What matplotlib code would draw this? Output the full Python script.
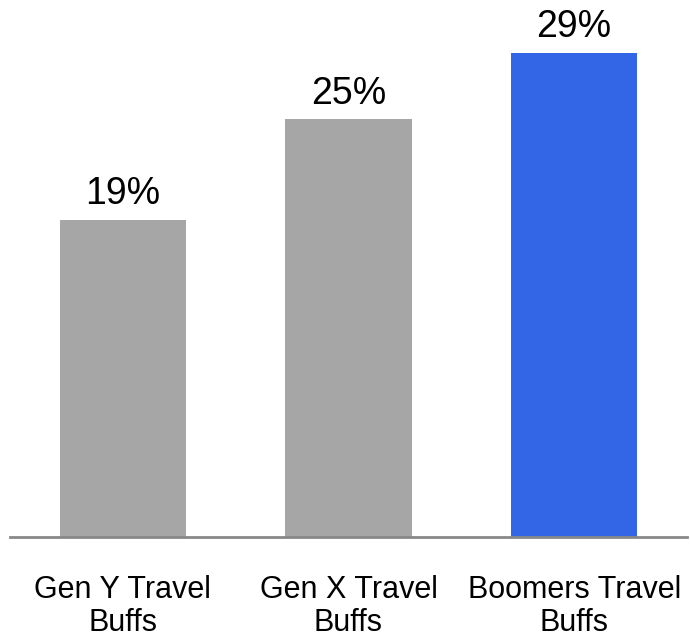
import matplotlib.pyplot as plt

categories = ["Gen Y Travel\nBuffs", "Gen X Travel\nBuffs", "Boomers Travel\nBuffs"]
values = [19, 25, 29]
labels = ["19%", "25%", "29%"]
colors = ["#A6A6A6", "#A6A6A6", "#3366E6"]

plt.rcParams['font.family'] = ['Liberation Sans', 'DejaVu Sans']

fig = plt.figure(figsize=(6.9, 6.37), dpi=100)
ax = fig.add_axes([10 / 690, 1 - 537 / 637, 677 / 690, 537 / 637])

xs = range(len(values))
ax.bar(xs, values, width=0.56, color=colors)

for x, v, lab in zip(xs, values, labels):
    ax.text(x, v + 0.45, lab, ha='center', va='bottom', fontsize=27)

ax.set_xlim(-0.5, 2.5)
ax.set_ylim(0, 32.15)
ax.set_xticks(list(xs))
ax.set_xticklabels(categories, fontsize=22, linespacing=1.15)
ax.tick_params(axis='x', length=0, pad=27)
ax.set_yticks([])

for s in ['top', 'right', 'left']:
    ax.spines[s].set_visible(False)
ax.spines['bottom'].set_color('#888888')
ax.spines['bottom'].set_linewidth(2)

fig.savefig("out.png", dpi=100)
